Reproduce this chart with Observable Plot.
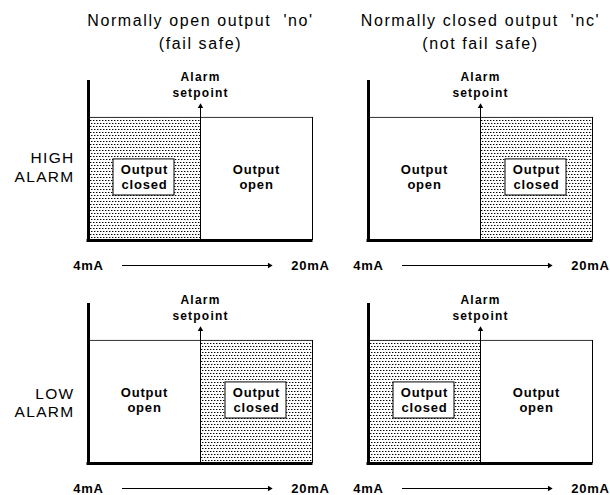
<!DOCTYPE html>
<html>
<head>
<meta charset="utf-8">
<script src="https://cdn.jsdelivr.net/npm/d3@7"></script>
<script src="https://cdn.jsdelivr.net/npm/@observablehq/plot@0.6"></script>
<style>
  html, body { margin: 0; padding: 0; background: #fff; }
  #chart svg text { white-space: pre; }
  #chart g[font-size="16"] text { letter-spacing: 1.6px; }
  #chart g[font-size="15.5"] text { letter-spacing: 1.3px; }
  #chart g[font-size="13"] text { letter-spacing: 0.8px; }
  #chart g[font-size="12"] text { letter-spacing: 1.2px; }
</style>
</head>
<body>
<div id="chart"></div>
<script>
// ---- data ----
const outputs = ["no", "nc"];
const outputTitles = ["Normally open output  'no'", "Normally closed output  'nc'"];
const outputSubtitles = ["(fail safe)", "(not fail safe)"];
const alarms = ["HIGH", "LOW"];
const alarmLabels = ["HIGH\nALARM", "LOW\nALARM"];
const currentRange = [4, 20];            // mA
const rangeLabels = ["4mA", "20mA"];
const setpoint = 12;                      // mA
const setpointLabel = "Alarm\nsetpoint";
// panel order: HIGH-no, HIGH-nc, LOW-no, LOW-nc
const closedBelowSetpoint = [true, false, false, true];
const stateLabels = ["Output\nclosed", "Output\nopen"];

const [lo, hi] = currentRange;
const panels = alarms.flatMap((alarm, i) => outputs.map((output, j) => {
  const below = closedBelowSetpoint[i * outputs.length + j];
  return {
    alarm, output,
    alarmLabel: alarmLabels[i],
    title: outputTitles[j],
    subtitle: outputSubtitles[j],
    closed: below ? [lo, setpoint] : [setpoint, hi],
    open: below ? [setpoint, hi] : [lo, setpoint]
  };
}));
const F = {fx: "output", fy: "alarm"};
const mid = (a) => (a[0] + a[1]) / 2;

const chart = Plot.plot({
  width: 610,
  height: 495,
  marginLeft: 88,
  marginRight: 18,
  marginTop: 80,
  marginBottom: 32,
  x: {domain: currentRange, axis: null},
  y: {domain: [0, 1.3], axis: null},
  fx: {domain: outputs, paddingInner: 0.2, paddingOuter: 0, axis: null, round: false},
  fy: {domain: alarms, paddingInner: 63 / 223, paddingOuter: 0, axis: null, round: false},
  style: {fontFamily: "'Liberation Sans', Arial, sans-serif", color: "#000", background: "#fff", overflow: "visible"},
  marks: [
    // closed (shaded) region
    Plot.rect(panels, {...F, x1: d => d.closed[0], x2: d => d.closed[1], y1: 0, y2: 1, fill: "url(#stipple)"}),
    // frame top and right edges
    Plot.ruleY(panels, {...F, y: 1, x1: lo, x2: hi, stroke: "#333", strokeWidth: 1}),
    Plot.ruleX(panels, {...F, x: hi, y1: 0, y2: 1, stroke: "#000", strokeWidth: 1}),
    // setpoint line + head
    Plot.ruleX(panels, {...F, x: setpoint, y1: 0, y2: 1.1, stroke: "#000", strokeWidth: 1}),
    Plot.dot(panels, {...F, x: setpoint, y: 1.122, dy: 4, symbol: "triangle2", r: 2.6, fill: "#000", stroke: "none"}),
    // thick axes
    Plot.ruleX(panels, {...F, x: lo, y1: 0, y2: 1.3, stroke: "#000", strokeWidth: 3}),
    Plot.ruleY(panels, {...F, y: 0, x1: lo, x2: hi, stroke: "#000", strokeWidth: 3, insetLeft: -1.5, insetRight: -0.5}),
    // output closed box
    Plot.rect(panels, {...F, x1: d => d.closed[0], x2: d => d.closed[1], y1: 0, y2: 1, fill: "#fff", stroke: "#000", strokeWidth: 1, insetLeft: 25, insetRight: 26, insetTop: 42, insetBottom: 45}),
    Plot.text(panels, {...F, x: d => mid(d.closed), y: 0.5, dy: -2, text: () => stateLabels[0], fontSize: 13, fontWeight: "bold", lineHeight: 1.15, fill: "#000"}),
    Plot.text(panels, {...F, x: d => mid(d.open), y: 0.5, dy: -2, text: () => stateLabels[1], fontSize: 13, fontWeight: "bold", lineHeight: 1.15, fill: "#000"}),
    // setpoint label
    Plot.text(panels, {...F, x: setpoint, frameAnchor: "top", lineAnchor: "middle", dy: 3, text: () => setpointLabel, fontSize: 12, fontWeight: "bold", lineHeight: 1.33, fill: "#000"}),
    // current range arrow
    Plot.ruleY(panels, {...F, y: 0, x1: lo, x2: hi, dy: 25, insetLeft: 34, insetRight: 42, stroke: "#000", strokeWidth: 1}),
    Plot.dot(panels, {...F, x: hi, y: 0, dy: 25, dx: -43, symbol: "triangle2", rotate: 90, r: 2.6, fill: "#000", stroke: "none"}),
    Plot.text(panels, {...F, x: lo, frameAnchor: "bottom", lineAnchor: "middle", dy: 25, text: () => rangeLabels[0], fontSize: 13, fontWeight: "bold", fill: "#000"}),
    Plot.text(panels, {...F, x: hi, frameAnchor: "bottom", lineAnchor: "middle", dy: 25, dx: -2, text: () => rangeLabels[1], fontSize: 13, fontWeight: "bold", fill: "#000"}),
    // row labels
    Plot.text(panels.filter(d => d.output === outputs[0]), {...F, x: lo, y: d => d.alarm === alarms[0] ? 0.6 : 0.5, dx: -14, textAnchor: "end", text: "alarmLabel", fontSize: 15.5, lineHeight: 1.2, fill: "#000"}),
    // column titles
    Plot.text(panels.filter(d => d.alarm === alarms[0]), {...F, frameAnchor: "top", lineAnchor: "middle", dy: -60, text: "title", fontSize: 16, fill: "#000"}),
    Plot.text(panels.filter(d => d.alarm === alarms[0]), {...F, frameAnchor: "top", lineAnchor: "middle", dy: -37, text: "subtitle", fontSize: 16, fill: "#000"})
  ]
});

d3.select(chart).insert("defs", ":first-child").html(
  '<pattern id="stipple" patternUnits="userSpaceOnUse" width="6" height="6">' +
  '<rect x="0" y="0" width="1" height="1" fill="#000"/>' +
  '<rect x="1" y="0" width="1" height="1" fill="#999"/>' +
  '<rect x="3" y="0" width="1" height="1" fill="#000"/>' +
  '<rect x="4" y="0" width="1" height="1" fill="#999"/>' +
  '<rect x="1" y="3" width="1" height="1" fill="#000"/>' +
  '<rect x="2" y="3" width="1" height="1" fill="#999"/>' +
  '<rect x="4" y="3" width="1" height="1" fill="#000"/>' +
  '<rect x="5" y="3" width="1" height="1" fill="#999"/>' +
  '</pattern>'
);
document.getElementById("chart").appendChild(chart);
</script>
</body>
</html>
